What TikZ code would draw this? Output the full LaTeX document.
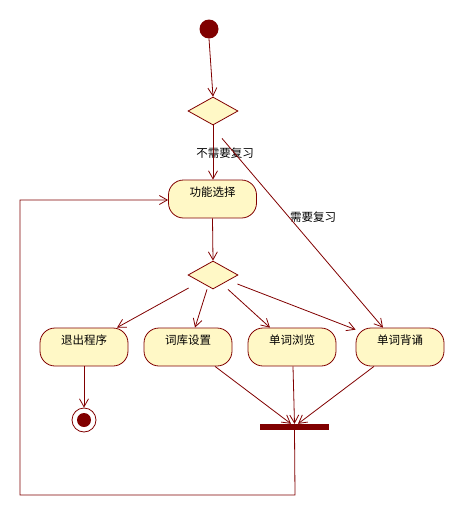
\documentclass[tikz,border=0pt]{standalone}
\usepackage{fontspec}
\setmainfont{Noto Sans CJK SC}
\usetikzlibrary{arrows.meta,shapes.geometric,calc}
\definecolor{rosered}{HTML}{800000}
\definecolor{rosefill}{HTML}{FFF8C6}
\tikzset{
  x=1pt,y=-1pt,
  flow/.style={draw=rosered,line width=0.8pt,-{Straight Barb[length=8pt,width=9pt,line width=0.8pt]}},
  plain/.style={draw=rosered,line width=0.8pt},
  act/.style={draw=rosered,fill=rosefill,line width=0.8pt,rounded corners=15pt,minimum width=88pt,minimum height=38pt,inner sep=0pt},
  acttext/.style={font=\fontsize{11.5}{13}\selectfont},
  decision/.style={diamond,draw=rosered,fill=rosefill,line width=0.8pt,minimum width=50pt,minimum height=28pt,inner sep=0pt},
  lbl/.style={font=\fontsize{11.5}{13}\selectfont,inner sep=0pt}
}
\begin{document}
\begin{tikzpicture}
\useasboundingbox (0,0) rectangle (465,517);
% start
\node[circle,fill=rosered,minimum size=19pt,inner sep=0pt] (start) at (209,29) {};
\node[decision] (d1) at (213,111) {};
\node[act] (f) at (212.5,199) {};
\node[acttext,anchor=north] (ft) at (212.5,183) {功能选择};
\node[decision] (d2) at (213,275) {};
\node[act] (a1) at (84,347) {};
\node[acttext,anchor=north] (a1t) at (84,331) {退出程序};
\node[act] (a2) at (188,347) {};
\node[acttext,anchor=north] (a2t) at (188,331) {词库设置};
\node[act] (a3) at (292,347) {};
\node[acttext,anchor=north] (a3t) at (292,331) {单词浏览};
\node[act] (a4) at (400,347) {};
\node[acttext,anchor=north] (a4t) at (400,331) {单词背诵};
% final
\node[circle,draw=rosered,line width=0.8pt,minimum size=24pt,inner sep=0pt] (fin) at (84,420) {};
\node[circle,fill=rosered,minimum size=14pt,inner sep=0pt] (finin) at (84,420) {};
% bar
\node[rectangle,fill=rosered,minimum width=69pt,minimum height=6pt,inner sep=0pt] (bar) at (294.5,427) {};
% labels
\node[lbl] (l1) at (225,153) {不需要复习};
\node[lbl] (l2) at (313,217) {需要复习};
% connectors
\draw[flow] (start.south) -- (d1.north);
\draw[flow] (d1.south) -- (f.north -| d1.south);
\draw[flow] ($(d1.south)+(9,13)$) -- ($(a4.north)+(-17,0)$);
\draw[flow] (f.south) -- (d2.north);
\draw[flow] ($(d2.west)+(1,13)$) -- ($(a1.north)+(33,0)$);
\draw[flow] ($(d2.south)+(-6,0)$) -- ($(a2.north)+(7,0)$);
\draw[flow] ($(d2.south)+(15,0)$) -- ($(a3.north)+(-22,0)$);
\draw[flow] ($(d2.east)+(-1,9)$) -- ($(a4.north west)+(0,2)$);
\draw[flow] (a1.south) -- (fin.north);
\draw[flow] ($(a2.south)+(27,0)$) -- ($(bar.north)+(-3.5,0)$);
\draw[flow] ($(a3.south)+(1,0)$) -- (bar.north);
\draw[flow] ($(a4.south)+(-26,0)$) -- ($(bar.north)+(3.5,0)$);
\coordinate (c1) at (295,495);
\coordinate (c2) at (20,495);
\coordinate (c3) at (20,200);
\draw[flow] (bar.south) -- (c1) -- (c2) -- (c3) -- (c3 -| f.west);
\end{tikzpicture}
\end{document}
